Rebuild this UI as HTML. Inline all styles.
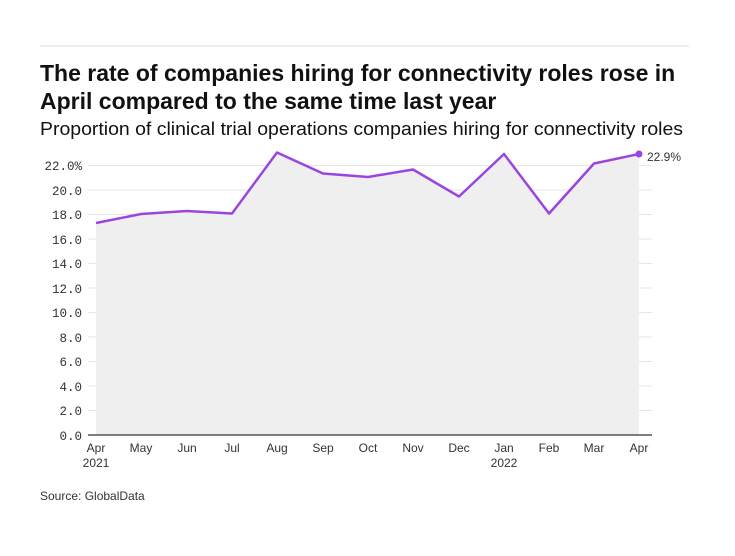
<!DOCTYPE html>
<html><head><meta charset="utf-8"><style>
body{margin:0;background:#fff;width:735px;height:551px;overflow:hidden;font-family:"Liberation Sans",sans-serif}
</style></head><body>
<svg width="735" height="551" viewBox="0 0 735 551" xmlns="http://www.w3.org/2000/svg">
<line x1="40" y1="46" x2="689" y2="46" stroke="#ddd" stroke-width="1"/>
<text x="40" y="81" font-size="23" font-weight="bold" fill="#111">The rate of companies hiring for connectivity roles rose in</text>
<text x="40" y="109" font-size="23" font-weight="bold" fill="#111">April compared to the same time last year</text>
<text x="40" y="135" font-size="18.5" fill="#111" textLength="643" lengthAdjust="spacingAndGlyphs">Proportion of clinical trial operations companies hiring for connectivity roles</text>
<g stroke="#e6e6e6" stroke-width="1">
<line x1="88" x2="652" y1="410.5" y2="410.5"/><line x1="88" x2="652" y1="386" y2="386"/>
<line x1="88" x2="652" y1="361.5" y2="361.5"/><line x1="88" x2="652" y1="337" y2="337"/>
<line x1="88" x2="652" y1="312.5" y2="312.5"/><line x1="88" x2="652" y1="288" y2="288"/>
<line x1="88" x2="652" y1="263.5" y2="263.5"/><line x1="88" x2="652" y1="239" y2="239"/>
<line x1="88" x2="652" y1="214.5" y2="214.5"/><line x1="88" x2="652" y1="190" y2="190"/>
<line x1="88" x2="652" y1="165.5" y2="165.5"/>
</g>
<polygon fill="#efefef" points="96,435 96,223 141,214 187,211 232,213.5 277,152.5 323,173.5 368,177 413,169.5 459,196.5 504,154 549,213.5 594,163.5 639,154 639,435"/>
<polyline fill="none" stroke="#9b45e0" stroke-width="2.5" stroke-linejoin="round" points="96,223 141,214 187,211 232,213.5 277,152.5 323,173.5 368,177 413,169.5 459,196.5 504,154 549,213.5 594,163.5 639,154"/>
<circle cx="639" cy="154" r="3.5" fill="#9b45e0"/>
<text x="647" y="161" font-size="12" fill="#333">22.9%</text>
<line x1="88" x2="652" y1="435" y2="435" stroke="#333" stroke-width="1.2"/>
<g font-family="Liberation Mono,monospace" font-size="12.5" fill="#333" text-anchor="end">
<text x="82" y="440">0.0</text><text x="82" y="415">2.0</text><text x="82" y="391">4.0</text>
<text x="82" y="366">6.0</text><text x="82" y="342">8.0</text><text x="82" y="317">10.0</text>
<text x="82" y="293">12.0</text><text x="82" y="268">14.0</text><text x="82" y="244">16.0</text>
<text x="82" y="219">18.0</text><text x="82" y="195">20.0</text><text x="82" y="170">22.0%</text>
</g>
<g font-size="12" fill="#333" text-anchor="middle">
<text x="96" y="452">Apr</text><text x="96" y="467">2021</text>
<text x="141" y="452">May</text><text x="187" y="452">Jun</text><text x="232" y="452">Jul</text>
<text x="277" y="452">Aug</text><text x="323" y="452">Sep</text><text x="368" y="452">Oct</text>
<text x="413" y="452">Nov</text><text x="459" y="452">Dec</text><text x="504" y="452">Jan</text>
<text x="504" y="467">2022</text><text x="549" y="452">Feb</text><text x="594" y="452">Mar</text>
<text x="639" y="452">Apr</text>
</g>
<text x="40" y="500" font-size="12" fill="#333">Source: GlobalData</text>
</svg>
</body></html>
